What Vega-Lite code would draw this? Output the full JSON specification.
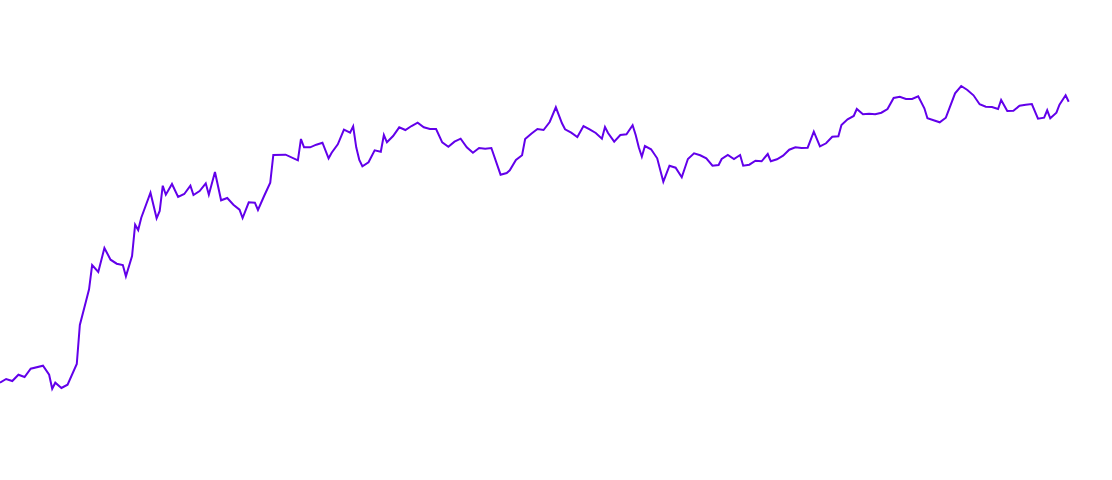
{
  "$schema": "https://vega.github.io/schema/vega-lite/v6.json",
  "width": 1112,
  "height": 480,
  "padding": 0,
  "autosize": {"type": "none"},
  "data": {
    "values": [
      {"t": 0, "v": 97.3}, {"t": 2, "v": 101}, {"t": 4, "v": 99}, {"t": 6, "v": 105.3},
      {"t": 8, "v": 103}, {"t": 10, "v": 111.3}, {"t": 14, "v": 114.3}, {"t": 16, "v": 105.3},
      {"t": 17, "v": 91.3}, {"t": 18, "v": 97.3}, {"t": 20, "v": 92}, {"t": 22, "v": 95.3},
      {"t": 25, "v": 116}, {"t": 26, "v": 155}, {"t": 28, "v": 178.7}, {"t": 29, "v": 190.7},
      {"t": 30, "v": 215}, {"t": 32, "v": 208}, {"t": 34, "v": 232}, {"t": 36, "v": 220.3},
      {"t": 38, "v": 216.3}, {"t": 40, "v": 215}, {"t": 41, "v": 203.7}, {"t": 43, "v": 224},
      {"t": 44, "v": 255.3}, {"t": 45, "v": 250}, {"t": 46, "v": 262.3}, {"t": 49, "v": 287.3},
      {"t": 51, "v": 261.7}, {"t": 52, "v": 269}, {"t": 53, "v": 294.3}, {"t": 54, "v": 285.3},
      {"t": 56, "v": 296}, {"t": 58, "v": 283}, {"t": 60, "v": 286}, {"t": 62, "v": 294.3},
      {"t": 63, "v": 285}, {"t": 65, "v": 289}, {"t": 67, "v": 296.7}, {"t": 68, "v": 285.3},
      {"t": 70, "v": 308}, {"t": 72, "v": 279.7}, {"t": 74, "v": 282}, {"t": 76, "v": 275.3},
      {"t": 78, "v": 270.3}, {"t": 79, "v": 262}, {"t": 81, "v": 277.7}, {"t": 83, "v": 277.3},
      {"t": 84, "v": 270}, {"t": 86, "v": 284}, {"t": 88, "v": 297.3}, {"t": 89, "v": 325},
      {"t": 93, "v": 325.3}, {"t": 97, "v": 319.7}, {"t": 98, "v": 341}, {"t": 99, "v": 332.7},
      {"t": 101, "v": 332.7}, {"t": 103, "v": 335.3}, {"t": 105, "v": 337.3}, {"t": 107, "v": 321.7},
      {"t": 108, "v": 327.3}, {"t": 110, "v": 335.7}, {"t": 112, "v": 350.3}, {"t": 114, "v": 347.3},
      {"t": 115, "v": 353.7}, {"t": 116, "v": 332.7}, {"t": 117, "v": 320}, {"t": 118, "v": 313.7},
      {"t": 120, "v": 317.7}, {"t": 122, "v": 329.7}, {"t": 124, "v": 328.3}, {"t": 125, "v": 345},
      {"t": 126, "v": 337.7}, {"t": 128, "v": 344}, {"t": 130, "v": 352.7}, {"t": 132, "v": 350},
      {"t": 134, "v": 354}, {"t": 136, "v": 357.3}, {"t": 138, "v": 352.7}, {"t": 140, "v": 351},
      {"t": 142, "v": 351}, {"t": 144, "v": 337.7}, {"t": 146, "v": 333.3}, {"t": 148, "v": 338.3},
      {"t": 150, "v": 341.3}, {"t": 152, "v": 332.7}, {"t": 154, "v": 327.3}, {"t": 156, "v": 332},
      {"t": 158, "v": 331.3}, {"t": 160, "v": 332}, {"t": 163, "v": 305.3}, {"t": 165, "v": 307},
      {"t": 166, "v": 309.7}, {"t": 168, "v": 320}, {"t": 170, "v": 324.7}, {"t": 171, "v": 341},
      {"t": 173, "v": 346.3}, {"t": 175, "v": 351}, {"t": 177, "v": 350}, {"t": 179, "v": 358},
      {"t": 181, "v": 372.7}, {"t": 183, "v": 356.7}, {"t": 184, "v": 350.7}, {"t": 186, "v": 347.3},
      {"t": 188, "v": 343}, {"t": 190, "v": 354}, {"t": 192, "v": 350.7}, {"t": 194, "v": 347},
      {"t": 196, "v": 341.3}, {"t": 197, "v": 353}, {"t": 198, "v": 347}, {"t": 200, "v": 338.3},
      {"t": 202, "v": 345}, {"t": 204, "v": 345.7}, {"t": 206, "v": 354.7}, {"t": 207, "v": 345},
      {"t": 208, "v": 332.7}, {"t": 209, "v": 323.3}, {"t": 210, "v": 334}, {"t": 212, "v": 330.7},
      {"t": 214, "v": 321.7}, {"t": 216, "v": 298.3}, {"t": 218, "v": 314.3}, {"t": 220, "v": 312.3},
      {"t": 222, "v": 302.7}, {"t": 224, "v": 321}, {"t": 226, "v": 326.7}, {"t": 228, "v": 324.7},
      {"t": 230, "v": 321.7}, {"t": 232, "v": 314.3}, {"t": 234, "v": 315}, {"t": 235, "v": 321},
      {"t": 237, "v": 325}, {"t": 239, "v": 321}, {"t": 241, "v": 325}, {"t": 242, "v": 314.3},
      {"t": 244, "v": 315.3}, {"t": 246, "v": 319.3}, {"t": 248, "v": 318.7}, {"t": 250, "v": 326},
      {"t": 251, "v": 318.7}, {"t": 253, "v": 320.7}, {"t": 255, "v": 324.3}, {"t": 257, "v": 330.3},
      {"t": 259, "v": 332.7}, {"t": 261, "v": 332}, {"t": 263, "v": 332.3}, {"t": 265, "v": 348.3},
      {"t": 267, "v": 333.7}, {"t": 269, "v": 336.7}, {"t": 271, "v": 343.3}, {"t": 273, "v": 343.7},
      {"t": 274, "v": 355}, {"t": 276, "v": 360.7}, {"t": 278, "v": 364}, {"t": 279, "v": 371},
      {"t": 281, "v": 365.7}, {"t": 283, "v": 366.3}, {"t": 285, "v": 365.7}, {"t": 287, "v": 367.3},
      {"t": 289, "v": 371}, {"t": 291, "v": 382}, {"t": 293, "v": 383.3}, {"t": 295, "v": 381},
      {"t": 297, "v": 381}, {"t": 299, "v": 383.7}, {"t": 301, "v": 371.7}, {"t": 302, "v": 361.7},
      {"t": 306, "v": 357.7}, {"t": 308, "v": 362.3}, {"t": 311, "v": 386.7}, {"t": 313, "v": 394},
      {"t": 315, "v": 390}, {"t": 317, "v": 384.7}, {"t": 319, "v": 375.7}, {"t": 321, "v": 373.3},
      {"t": 323, "v": 373}, {"t": 325, "v": 371}, {"t": 326, "v": 380}, {"t": 328, "v": 369},
      {"t": 330, "v": 369.3}, {"t": 332, "v": 374.3}, {"t": 334, "v": 375.3}, {"t": 336, "v": 376},
      {"t": 338, "v": 361.3}, {"t": 340, "v": 362.3}, {"t": 341, "v": 369.7}, {"t": 342, "v": 361.7},
      {"t": 344, "v": 367.3}, {"t": 345, "v": 375.3}, {"t": 347, "v": 384.7}, {"t": 348, "v": 378.3}
    ]
  },
  "mark": {"type": "line", "color": "#6200ea", "strokeWidth": 2},
  "encoding": {
    "x": {
      "field": "t",
      "type": "quantitative",
      "scale": {"domain": [0, 362.1], "nice": false, "zero": false},
      "axis": null
    },
    "y": {
      "field": "v",
      "type": "quantitative",
      "scale": {"domain": [0, 480], "nice": false},
      "axis": null
    }
  },
  "config": {
    "view": {"stroke": null}
  }
}
